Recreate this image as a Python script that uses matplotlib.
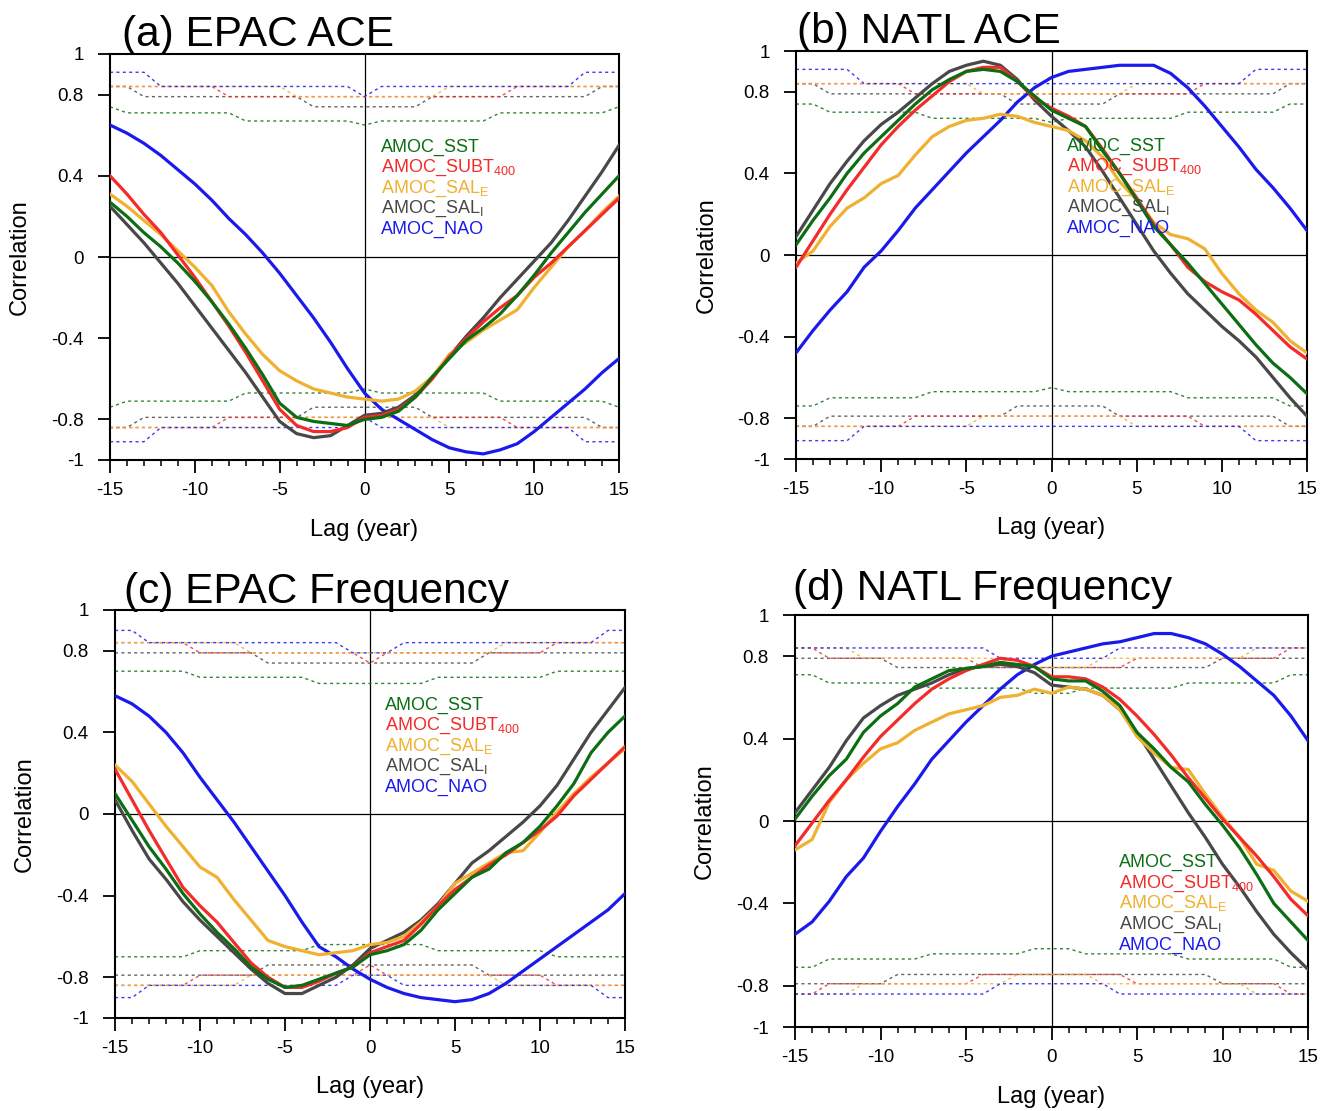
import matplotlib
matplotlib.use("Agg")
import matplotlib.pyplot as plt

plt.rcParams['font.family'] = ['Liberation Sans', 'DejaVu Sans']
plt.rcParams['mathtext.fontset'] = 'custom'
plt.rcParams['mathtext.rm'] = 'Liberation Sans'
plt.rcParams['mathtext.it'] = 'Liberation Sans'
plt.rcParams['axes.unicode_minus'] = False

W, H = 1331, 1111

lags = list(range(-15, 16))
series_names = ['AMOC_SST', r'AMOC_SUBT$_{\mathrm{400}}$', r'AMOC_SAL$_{\mathrm{E}}$',
                r'AMOC_SAL$_{\mathrm{I}}$', 'AMOC_NAO']
series_keys = ['sst', 'subt', 'sale', 'sali', 'nao']
colors = {'sst': '#0c6e12', 'subt': '#f52a2a', 'sale': '#f0b030',
          'sali': '#484848', 'nao': '#1a1aec'}

# ---- (a) EPAC ACE ----
sst_a = [0.27, 0.20, 0.12, 0.05, -0.03, -0.12, -0.22, -0.33, -0.45, -0.58, -0.72,
         -0.79, -0.81, -0.82, -0.83, -0.80,
         -0.79, -0.76, -0.69, -0.59, -0.50, -0.41, -0.35, -0.28, -0.19, -0.09, 0.02, 0.12, 0.22, 0.31, 0.40]
subt_a = [0.40, 0.31, 0.21, 0.12, 0.01, -0.10, -0.22, -0.34, -0.47, -0.61, -0.75,
          -0.83, -0.86, -0.86, -0.84, -0.79,
          -0.78, -0.75, -0.69, -0.60, -0.49, -0.40, -0.32, -0.25, -0.19, -0.10, -0.03, 0.05, 0.13, 0.21, 0.29]
sale_a = [0.31, 0.25, 0.18, 0.11, 0.03, -0.05, -0.14, -0.27, -0.38, -0.48, -0.56,
          -0.61, -0.65, -0.67, -0.69, -0.70,
          -0.71, -0.70, -0.66, -0.59, -0.48, -0.42, -0.36, -0.31, -0.26, -0.15, -0.05, 0.05, 0.13, 0.22, 0.30]
sali_a = [0.25, 0.16, 0.07, -0.03, -0.13, -0.24, -0.35, -0.46, -0.57, -0.69, -0.81,
          -0.87, -0.89, -0.88, -0.83, -0.78,
          -0.77, -0.74, -0.68, -0.59, -0.49, -0.39, -0.30, -0.20, -0.11, -0.02, 0.07, 0.18, 0.30, 0.42, 0.55]
nao_a = [0.65, 0.61, 0.56, 0.50, 0.43, 0.36, 0.28, 0.19, 0.11, 0.02, -0.08,
         -0.19, -0.30, -0.42, -0.55, -0.67,
         -0.75, -0.80, -0.85, -0.90, -0.94, -0.96, -0.97, -0.95, -0.92, -0.86, -0.79, -0.72, -0.65, -0.57, -0.50]

# 95% significance levels (drawn as +/-)
sig_sst_a = [0.74, 0.71, 0.71, 0.71, 0.71, 0.71, 0.71, 0.71, 0.67, 0.67, 0.67, 0.67, 0.67, 0.67, 0.67, 0.65,
             0.67, 0.67, 0.67, 0.67, 0.67, 0.67, 0.67, 0.71, 0.71, 0.71, 0.71, 0.71, 0.71, 0.71, 0.74]
sig_subt_a = [0.84, 0.84, 0.84, 0.84, 0.84, 0.84, 0.84, 0.79, 0.79, 0.79, 0.79, 0.79, 0.79, 0.79, 0.79, 0.79,
              0.79, 0.79, 0.79, 0.79, 0.79, 0.79, 0.79, 0.79, 0.84, 0.84, 0.84, 0.84, 0.84, 0.84, 0.84]
sig_sale_a = [0.84, 0.84, 0.84, 0.84, 0.84, 0.84, 0.84, 0.84, 0.84, 0.84, 0.84, 0.79, 0.79, 0.79, 0.79, 0.79,
              0.79, 0.79, 0.79, 0.79, 0.84, 0.84, 0.84, 0.84, 0.84, 0.84, 0.84, 0.84, 0.84, 0.84, 0.84]
sig_sali_a = [0.84, 0.84, 0.79, 0.79, 0.79, 0.79, 0.79, 0.79, 0.79, 0.79, 0.79, 0.79, 0.74, 0.74, 0.74, 0.74,
              0.74, 0.74, 0.74, 0.79, 0.79, 0.79, 0.79, 0.79, 0.79, 0.79, 0.79, 0.79, 0.79, 0.84, 0.84]
sig_nao_a = [0.91, 0.91, 0.91, 0.84, 0.84, 0.84, 0.84, 0.84, 0.84, 0.84, 0.84, 0.84, 0.84, 0.84, 0.84, 0.79,
             0.84, 0.84, 0.84, 0.84, 0.84, 0.84, 0.84, 0.84, 0.84, 0.84, 0.84, 0.84, 0.91, 0.91, 0.91]

# ---- (b) NATL ACE ----
sst_b = [0.05, 0.17, 0.28, 0.40, 0.50, 0.58, 0.66, 0.74, 0.81, 0.86, 0.90,
         0.91, 0.90, 0.85, 0.78, 0.71,
         0.67, 0.63, 0.51, 0.40, 0.27, 0.14, 0.05, -0.04, -0.14, -0.24, -0.34, -0.44, -0.53, -0.60, -0.68]
subt_b = [-0.06, 0.07, 0.20, 0.32, 0.43, 0.54, 0.63, 0.71, 0.78, 0.85, 0.90,
          0.92, 0.92, 0.85, 0.77, 0.72,
          0.68, 0.63, 0.52, 0.40, 0.28, 0.15, 0.05, -0.06, -0.13, -0.18, -0.22, -0.29, -0.37, -0.45, -0.51]
sale_b = [-0.04, 0.02, 0.14, 0.23, 0.28, 0.35, 0.39, 0.49, 0.58, 0.63, 0.66,
          0.67, 0.69, 0.68, 0.65, 0.63,
          0.61, 0.56, 0.48, 0.36, 0.27, 0.16, 0.10, 0.08, 0.03, -0.09, -0.19, -0.27, -0.33, -0.42, -0.48]
sali_b = [0.09, 0.22, 0.35, 0.46, 0.56, 0.64, 0.70, 0.77, 0.84, 0.90, 0.93,
          0.95, 0.93, 0.86, 0.76, 0.68,
          0.61, 0.53, 0.41, 0.28, 0.15, 0.02, -0.09, -0.19, -0.27, -0.35, -0.42, -0.50, -0.60, -0.70, -0.79]
nao_b = [-0.48, -0.37, -0.27, -0.18, -0.06, 0.02, 0.12, 0.23, 0.32, 0.41, 0.50,
         0.58, 0.66, 0.75, 0.82, 0.87,
         0.90, 0.91, 0.92, 0.93, 0.93, 0.93, 0.89, 0.82, 0.73, 0.63, 0.53, 0.42, 0.33, 0.23, 0.12]

sig_sst_b = [0.74, 0.74, 0.70, 0.70, 0.70, 0.70, 0.70, 0.70, 0.67, 0.67, 0.67, 0.67, 0.67, 0.67, 0.67, 0.65,
             0.67, 0.67, 0.67, 0.67, 0.67, 0.67, 0.67, 0.70, 0.70, 0.70, 0.70, 0.70, 0.70, 0.74, 0.74]
sig_subt_b = [0.84, 0.84, 0.84, 0.84, 0.84, 0.84, 0.84, 0.79, 0.79, 0.79, 0.79, 0.79, 0.79, 0.79, 0.79, 0.79,
              0.79, 0.79, 0.79, 0.79, 0.79, 0.79, 0.79, 0.79, 0.84, 0.84, 0.84, 0.84, 0.84, 0.84, 0.84]
sig_sale_b = [0.84, 0.84, 0.84, 0.84, 0.84, 0.84, 0.84, 0.84, 0.84, 0.84, 0.84, 0.79, 0.79, 0.79, 0.79, 0.79,
              0.79, 0.79, 0.79, 0.79, 0.84, 0.84, 0.84, 0.84, 0.84, 0.84, 0.84, 0.84, 0.84, 0.84, 0.84]
sig_sali_b = [0.84, 0.84, 0.79, 0.79, 0.79, 0.79, 0.79, 0.79, 0.79, 0.79, 0.79, 0.79, 0.79, 0.74, 0.74, 0.74,
              0.74, 0.74, 0.74, 0.79, 0.79, 0.79, 0.79, 0.79, 0.79, 0.79, 0.79, 0.79, 0.79, 0.84, 0.84]
sig_nao_b = [0.91, 0.91, 0.91, 0.91, 0.84, 0.84, 0.84, 0.84, 0.84, 0.84, 0.84, 0.84, 0.84, 0.84, 0.84, 0.84,
             0.84, 0.84, 0.84, 0.84, 0.84, 0.84, 0.84, 0.84, 0.84, 0.84, 0.84, 0.91, 0.91, 0.91, 0.91]

# ---- (c) EPAC Frequency ----
sst_c = [0.10, -0.03, -0.16, -0.27, -0.39, -0.49, -0.58, -0.66, -0.75, -0.81, -0.85,
         -0.84, -0.81, -0.78, -0.75, -0.69,
         -0.67, -0.64, -0.57, -0.47, -0.39, -0.31, -0.27, -0.19, -0.14, -0.06, 0.04, 0.15, 0.30, 0.40, 0.48]
subt_c = [0.22, 0.07, -0.08, -0.22, -0.36, -0.45, -0.53, -0.63, -0.73, -0.80, -0.85,
          -0.85, -0.82, -0.78, -0.75, -0.68,
          -0.65, -0.62, -0.54, -0.45, -0.37, -0.31, -0.25, -0.20, -0.14, -0.08, -0.01, 0.09, 0.17, 0.25, 0.33]
sale_c = [0.24, 0.16, 0.05, -0.06, -0.16, -0.26, -0.31, -0.42, -0.52, -0.62, -0.65,
          -0.67, -0.69, -0.68, -0.67, -0.64,
          -0.63, -0.60, -0.53, -0.45, -0.34, -0.29, -0.24, -0.19, -0.18, -0.09, 0.01, 0.10, 0.18, 0.25, 0.32]
sali_c = [0.07, -0.08, -0.22, -0.32, -0.43, -0.52, -0.60, -0.68, -0.76, -0.83, -0.88,
          -0.88, -0.84, -0.80, -0.74, -0.66,
          -0.62, -0.58, -0.52, -0.44, -0.34, -0.24, -0.18, -0.11, -0.04, 0.04, 0.14, 0.27, 0.40, 0.51, 0.62]
nao_c = [0.58, 0.54, 0.48, 0.40, 0.30, 0.18, 0.07, -0.04, -0.16, -0.28, -0.40,
         -0.53, -0.65, -0.70, -0.76, -0.81,
         -0.85, -0.88, -0.90, -0.91, -0.92, -0.91, -0.88, -0.83, -0.77, -0.71, -0.65, -0.59, -0.53, -0.47, -0.39]

sig_sst_c = [0.70, 0.70, 0.70, 0.70, 0.70, 0.67, 0.67, 0.67, 0.67, 0.67, 0.67, 0.67, 0.64, 0.64, 0.64, 0.64,
             0.64, 0.64, 0.64, 0.67, 0.67, 0.67, 0.67, 0.67, 0.67, 0.67, 0.70, 0.70, 0.70, 0.70, 0.70]
sig_subt_c = [0.84, 0.84, 0.84, 0.84, 0.84, 0.79, 0.79, 0.79, 0.79, 0.79, 0.79, 0.79, 0.79, 0.79, 0.79, 0.74,
              0.79, 0.79, 0.79, 0.79, 0.79, 0.79, 0.79, 0.79, 0.79, 0.79, 0.84, 0.84, 0.84, 0.84, 0.84]
sig_sale_c = [0.84, 0.84, 0.84, 0.84, 0.84, 0.84, 0.84, 0.84, 0.79, 0.79, 0.79, 0.79, 0.79, 0.79, 0.79, 0.79,
              0.79, 0.79, 0.79, 0.79, 0.79, 0.79, 0.79, 0.84, 0.84, 0.84, 0.84, 0.84, 0.84, 0.84, 0.84]
sig_sali_c = [0.79, 0.79, 0.79, 0.79, 0.79, 0.79, 0.79, 0.79, 0.79, 0.74, 0.74, 0.74, 0.74, 0.74, 0.74, 0.74,
              0.74, 0.74, 0.74, 0.74, 0.74, 0.74, 0.79, 0.79, 0.79, 0.79, 0.79, 0.79, 0.79, 0.79, 0.79]
sig_nao_c = [0.90, 0.90, 0.84, 0.84, 0.84, 0.84, 0.84, 0.84, 0.84, 0.84, 0.84, 0.84, 0.84, 0.84, 0.79, 0.79,
             0.79, 0.84, 0.84, 0.84, 0.84, 0.84, 0.84, 0.84, 0.84, 0.84, 0.84, 0.84, 0.84, 0.90, 0.90]

# ---- (d) NATL Frequency ----
sst_d = [0.01, 0.12, 0.22, 0.30, 0.43, 0.51, 0.57, 0.65, 0.69, 0.73, 0.74,
         0.75, 0.77, 0.76, 0.75, 0.69,
         0.68, 0.68, 0.63, 0.56, 0.43, 0.35, 0.26, 0.19, 0.08, -0.02, -0.13, -0.26, -0.40, -0.49, -0.58]
subt_d = [-0.12, -0.01, 0.10, 0.20, 0.31, 0.41, 0.49, 0.57, 0.64, 0.69, 0.73,
          0.76, 0.79, 0.78, 0.75, 0.70,
          0.70, 0.69, 0.65, 0.59, 0.51, 0.42, 0.32, 0.21, 0.11, 0.01, -0.08, -0.17, -0.27, -0.38, -0.46]
sale_d = [-0.14, -0.09, 0.09, 0.20, 0.28, 0.35, 0.38, 0.44, 0.48, 0.52, 0.54,
          0.56, 0.60, 0.61, 0.64, 0.62,
          0.65, 0.64, 0.61, 0.54, 0.41, 0.33, 0.26, 0.25, 0.13, 0.02, -0.08, -0.21, -0.24, -0.34, -0.39]
sali_d = [0.04, 0.15, 0.26, 0.39, 0.50, 0.56, 0.61, 0.64, 0.67, 0.71, 0.74,
          0.75, 0.76, 0.75, 0.72, 0.66,
          0.65, 0.64, 0.61, 0.54, 0.43, 0.30, 0.17, 0.04, -0.08, -0.21, -0.32, -0.44, -0.55, -0.64, -0.72]
nao_d = [-0.55, -0.49, -0.39, -0.27, -0.18, -0.05, 0.07, 0.18, 0.30, 0.39, 0.48,
         0.56, 0.64, 0.71, 0.76, 0.80,
         0.82, 0.84, 0.86, 0.87, 0.89, 0.91, 0.91, 0.89, 0.86, 0.81, 0.75, 0.68, 0.61, 0.51, 0.39]

sig_sst_d = [0.71, 0.71, 0.67, 0.67, 0.67, 0.67, 0.67, 0.67, 0.645, 0.645, 0.645, 0.645, 0.645, 0.645, 0.62, 0.62,
             0.62, 0.645, 0.645, 0.645, 0.645, 0.645, 0.645, 0.67, 0.67, 0.67, 0.67, 0.67, 0.67, 0.71, 0.71]
sig_subt_d = [0.84, 0.84, 0.79, 0.79, 0.79, 0.79, 0.79, 0.79, 0.79, 0.79, 0.79, 0.745, 0.745, 0.745, 0.745, 0.745,
              0.745, 0.745, 0.745, 0.745, 0.79, 0.79, 0.79, 0.79, 0.79, 0.79, 0.79, 0.79, 0.79, 0.84, 0.84]
sig_sale_d = [0.84, 0.84, 0.84, 0.84, 0.79, 0.79, 0.79, 0.79, 0.79, 0.79, 0.79, 0.79, 0.79, 0.745, 0.745, 0.745,
              0.745, 0.745, 0.79, 0.79, 0.79, 0.79, 0.79, 0.79, 0.79, 0.79, 0.79, 0.84, 0.84, 0.84, 0.84]
sig_sali_d = [0.79, 0.79, 0.79, 0.79, 0.79, 0.79, 0.745, 0.745, 0.745, 0.745, 0.745, 0.745, 0.745, 0.745, 0.745, 0.745,
              0.745, 0.745, 0.745, 0.745, 0.745, 0.745, 0.745, 0.745, 0.745, 0.79, 0.79, 0.79, 0.79, 0.79, 0.79]
sig_nao_d = [0.84, 0.84, 0.84, 0.84, 0.84, 0.84, 0.84, 0.84, 0.84, 0.84, 0.84, 0.84, 0.79, 0.79, 0.79, 0.79,
             0.79, 0.79, 0.79, 0.84, 0.84, 0.84, 0.84, 0.84, 0.84, 0.84, 0.84, 0.84, 0.84, 0.84, 0.84]

panels = [
    dict(title='(a) EPAC ACE', box=(110, 54, 619, 460), title_at=(122, 46),
         legend_at=(381, 151.5), xlabel_at=(364, 530), ylabel_at=(20, 257),
         data=dict(sst=sst_a, subt=subt_a, sale=sale_a, sali=sali_a, nao=nao_a),
         sig=dict(sst=sig_sst_a, subt=sig_subt_a, sale=sig_sale_a, sali=sig_sali_a, nao=sig_nao_a)),
    dict(title='(b) NATL ACE', box=(796, 51, 1307, 459), title_at=(797, 43),
         legend_at=(1067, 150.5), xlabel_at=(1051, 528), ylabel_at=(707, 255),
         data=dict(sst=sst_b, subt=subt_b, sale=sale_b, sali=sali_b, nao=nao_b),
         sig=dict(sst=sig_sst_b, subt=sig_subt_b, sale=sig_sale_b, sali=sig_sali_b, nao=sig_nao_b)),
    dict(title='(c) EPAC Frequency', box=(115, 610, 625, 1018), title_at=(124, 603),
         legend_at=(385, 709.5), xlabel_at=(370, 1087), ylabel_at=(25, 814),
         data=dict(sst=sst_c, subt=subt_c, sale=sale_c, sali=sali_c, nao=nao_c),
         sig=dict(sst=sig_sst_c, subt=sig_subt_c, sale=sig_sale_c, sali=sig_sali_c, nao=sig_nao_c)),
    dict(title='(d) NATL Frequency', box=(795, 615, 1308, 1027), title_at=(793, 600),
         legend_at=(1119, 867), xlabel_at=(1051, 1097), ylabel_at=(705, 821),
         data=dict(sst=sst_d, subt=subt_d, sale=sale_d, sali=sali_d, nao=nao_d),
         sig=dict(sst=sig_sst_d, subt=sig_subt_d, sale=sig_sale_d, sali=sig_sali_d, nao=sig_nao_d)),
]


def fx(x):
    return x / W


def fy(y):
    return 1 - y / H


def draw_panel(fig, p):
    l, t, r, b = p['box']
    ax = fig.add_axes([fx(l), fy(b), (r - l) / W, (b - t) / H])
    ax.axhline(0, color='black', lw=0.9, zorder=1)
    ax.axvline(0, color='black', lw=0.9, zorder=1)

    # significance levels
    for key in ['sst', 'sali', 'subt', 'sale', 'nao']:
        sig = p['sig'][key]
        ax.plot(lags, sig, color=colors[key], lw=1.0, ls=(0, (2.2, 2.4)), alpha=0.85, zorder=2)
        ax.plot(lags, [-v for v in sig], color=colors[key], lw=1.0, ls=(0, (2.2, 2.4)), alpha=0.85, zorder=2)

    for key in ['nao', 'sali', 'sale', 'subt', 'sst']:
        ax.plot(lags, p['data'][key], color=colors[key], lw=2.3, zorder=3)

    ax.set_xlim(-15, 15)
    ax.set_ylim(-1, 1)
    ax.set_xticks([-15, -10, -5, 0, 5, 10, 15])
    ax.set_xticklabels(['-15', '-10', '-5', '0', '5', '10', '15'])
    ax.set_xticks(lags, minor=True)
    ax.set_yticks([-1, -0.8, -0.4, 0, 0.4, 0.8, 1])
    ax.set_yticklabels(['-1', '-0.8', '-0.4', '0', '0.4', '0.8', '1'])
    ax.tick_params(axis='both', which='major', direction='out', length=9, width=1.3,
                   labelsize=13.5, top=False, right=False)
    ax.tick_params(axis='x', which='major', pad=7)
    ax.tick_params(axis='y', which='major', pad=10)
    ax.tick_params(axis='x', which='minor', direction='out', length=4.5, width=1.1, top=False)
    ax.tick_params(axis='y', which='minor', left=False, right=False)
    for s in ax.spines.values():
        s.set_linewidth(1.5)

    fig.text(fx(p['title_at'][0]), fy(p['title_at'][1]), p['title'], fontsize=30.5, va='baseline', ha='left')
    fig.text(fx(p['xlabel_at'][0]), fy(p['xlabel_at'][1]), 'Lag (year)', fontsize=17, ha='center', va='center')
    fig.text(fx(p['ylabel_at'][0]), fy(p['ylabel_at'][1]), 'Correlation', fontsize=17, rotation=90,
             ha='center', va='center')

    lx, ly = p['legend_at']
    for i, (key, name) in enumerate(zip(series_keys, series_names)):
        fig.text(fx(lx), fy(ly + 20.6 * i), name, color=colors[key], fontsize=13, va='baseline', ha='left')
    return ax


fig = plt.figure(figsize=(W / 100, H / 100), dpi=100)
for p in panels:
    draw_panel(fig, p)
fig.savefig('out.png', dpi=100, facecolor='white')
